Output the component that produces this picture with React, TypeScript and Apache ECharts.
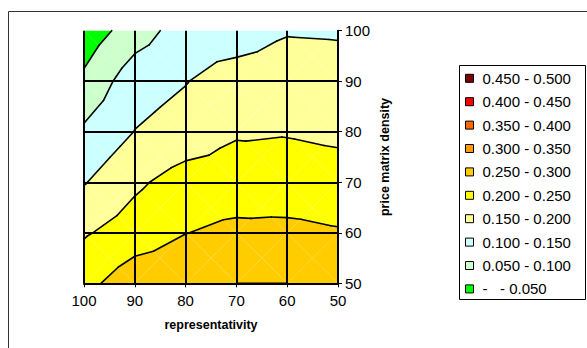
import React, { useEffect, useRef } from "react";
import * as echarts from "echarts";

// Grid coordinates of the surface
const representativity = [100, 90, 80, 70, 60, 50];
const priceMatrixDensity = [50, 60, 70, 80, 90, 100];

// Surface values, one row per price matrix density (50 → 100),
// columns follow the representativity order above
const ratioAtDensity50 = [0.235, 0.28, 0.285, 0.3, 0.3, 0.29];
const ratioAtDensity60 = [0.195, 0.224, 0.249, 0.262, 0.265, 0.255];
const ratioAtDensity70 = [0.147, 0.191, 0.222, 0.222, 0.215, 0.213];
const ratioAtDensity80 = [0.108, 0.151, 0.17, 0.1955, 0.198, 0.194];
const ratioAtDensity90 = [0.06, 0.13, 0.148, 0.175, 0.18, 0.175];
const ratioAtDensity100 = [0.02, 0.075, 0.125, 0.122, 0.146, 0.144];
const ratioRows = [
  ratioAtDensity50,
  ratioAtDensity60,
  ratioAtDensity70,
  ratioAtDensity80,
  ratioAtDensity90,
  ratioAtDensity100,
];

// Colour bands, listed top to bottom as in the legend
const bandLabels = [
  "0.450 - 0.500",
  "0.400 - 0.450",
  "0.350 - 0.400",
  "0.300 - 0.350",
  "0.250 - 0.300",
  "0.200 - 0.250",
  "0.150 - 0.200",
  "0.100 - 0.150",
  "0.050 - 0.100",
  "-   - 0.050",
];
const bandLower = [0.45, 0.4, 0.35, 0.3, 0.25, 0.2, 0.15, 0.1, 0.05, 0];
const bandUpper = [0.5, 0.45, 0.4, 0.35, 0.3, 0.25, 0.2, 0.15, 0.1, 0.05];
const bandColors = [
  "#800000",
  "#FF0000",
  "#FF6600",
  "#FF9900",
  "#FFCC00",
  "#FFFF00",
  "#FFFF99",
  "#CCFFFF",
  "#CCFFCC",
  "#00FF00",
];
const contourLevels = [0.05, 0.1, 0.15, 0.2, 0.25, 0.3, 0.35, 0.4, 0.45];

const FONT = "'Liberation Sans', Arial, sans-serif";

type Pt = [number, number, number];

// Split every grid cell into four triangles around its centre point
function buildTriangles(): Pt[][] {
  const tris: Pt[][] = [];
  for (let j = 0; j < priceMatrixDensity.length - 1; j++) {
    for (let i = 0; i < representativity.length - 1; i++) {
      const a: Pt = [representativity[i], priceMatrixDensity[j], ratioRows[j][i]];
      const b: Pt = [representativity[i + 1], priceMatrixDensity[j], ratioRows[j][i + 1]];
      const c: Pt = [representativity[i + 1], priceMatrixDensity[j + 1], ratioRows[j + 1][i + 1]];
      const d: Pt = [representativity[i], priceMatrixDensity[j + 1], ratioRows[j + 1][i]];
      const m: Pt = [(a[0] + c[0]) / 2, (a[1] + c[1]) / 2, (a[2] + b[2] + c[2] + d[2]) / 4];
      tris.push([a, b, m], [b, c, m], [c, d, m], [d, a, m]);
    }
  }
  return tris;
}

// Keep the part of a polygon above (or below) a level, interpolating linearly
function clipAt(poly: Pt[], level: number, keepAbove: boolean): Pt[] {
  const out: Pt[] = [];
  const inside = (p: Pt) => (keepAbove ? p[2] >= level : p[2] < level);
  for (let k = 0; k < poly.length; k++) {
    const cur = poly[k];
    const nxt = poly[(k + 1) % poly.length];
    const ci = inside(cur);
    const ni = inside(nxt);
    if (ci) out.push(cur);
    if (ci !== ni) {
      const t = (level - cur[2]) / (nxt[2] - cur[2]);
      out.push([cur[0] + t * (nxt[0] - cur[0]), cur[1] + t * (nxt[1] - cur[1]), level]);
    }
  }
  return out;
}

function levelSegment(tri: Pt[], level: number): Pt[] | null {
  const pts: Pt[] = [];
  for (let k = 0; k < 3; k++) {
    const p = tri[k];
    const q = tri[(k + 1) % 3];
    if (p[2] >= level !== q[2] >= level) {
      const t = (level - p[2]) / (q[2] - p[2]);
      pts.push([p[0] + t * (q[0] - p[0]), p[1] + t * (q[1] - p[1]), level]);
    }
  }
  return pts.length === 2 ? pts : null;
}

function buildOption() {
  const tris = buildTriangles();

  const bandSeries = bandLabels.map((name, b) => {
    const polys: Pt[][] = [];
    tris.forEach((tri) => {
      let poly = clipAt(tri, bandLower[b], true);
      if (poly.length >= 3) poly = clipAt(poly, bandUpper[b], false);
      if (poly.length >= 3) polys.push(poly);
    });
    return {
      type: "custom",
      name,
      z: 2,
      itemStyle: { color: bandColors[b] },
      data: polys.map((p, idx) => [p[0][0], p[0][1], idx]),
      renderItem: (_params: any, api: any) => {
        const poly = polys[api.value(2)];
        return {
          type: "polygon",
          shape: { points: poly.map((p) => api.coord([p[0], p[1]])) },
          style: { fill: bandColors[b], stroke: null },
        };
      },
    };
  });

  const segments: Pt[][] = [];
  tris.forEach((tri) => {
    contourLevels.forEach((lv) => {
      const s = levelSegment(tri, lv);
      if (s) segments.push(s);
    });
  });

  const contourSeries = {
    type: "custom",
    name: "contours",
    z: 3,
    silent: true,
    data: segments.map((s, idx) => [s[0][0], s[0][1], idx]),
    renderItem: (_params: any, api: any) => {
      const s = segments[api.value(2)];
      const p1 = api.coord([s[0][0], s[0][1]]);
      const p2 = api.coord([s[1][0], s[1][1]]);
      return {
        type: "line",
        shape: { x1: p1[0], y1: p1[1], x2: p2[0], y2: p2[1] },
        style: { stroke: "#000", lineWidth: 1.6, lineCap: "round" },
      };
    },
  };

  const axisLabel = { fontFamily: FONT, fontSize: 15, color: "#000" };
  const nameStyle = { fontFamily: FONT, fontSize: 12.5, fontWeight: "bold", color: "#000" };

  return {
    animation: false,
    backgroundColor: "#fff",
    grid: { left: 84, right: 249, top: 30.7, bottom: 64.7, containLabel: false },
    xAxis: {
      type: "value",
      inverse: true,
      min: 50,
      max: 100,
      interval: 10,
      z: 5,
      name: "representativity",
      nameLocation: "middle",
      nameGap: 35,
      nameTextStyle: nameStyle,
      axisLine: { show: true, lineStyle: { color: "#000", width: 2 } },
      axisTick: { show: true, inside: false, length: 4, lineStyle: { color: "#000", width: 1 } },
      axisLabel: { ...axisLabel, margin: 10 },
      splitLine: { show: true, lineStyle: { color: "#000", width: 2 } },
    },
    yAxis: {
      type: "value",
      position: "right",
      min: 50,
      max: 100,
      interval: 10,
      z: 5,
      name: "price matrix density",
      nameLocation: "middle",
      nameRotate: 90,
      nameGap: 40,
      nameTextStyle: nameStyle,
      axisLine: { show: true, lineStyle: { color: "#000", width: 2 } },
      axisTick: { show: true, inside: false, length: 4, lineStyle: { color: "#000", width: 1 } },
      axisLabel: { ...axisLabel, margin: 7 },
      splitLine: { show: true, showMaxLine: false, lineStyle: { color: "#000", width: 2 } },
    },
    legend: {
      orient: "vertical",
      left: 465,
      top: 68.3,
      padding: 0,
      itemWidth: 8,
      itemHeight: 8,
      itemGap: 3.4,
      icon: "rect",
      selectedMode: false,
      itemStyle: { borderColor: "#000", borderWidth: 1 },
      textStyle: {
        fontFamily: FONT,
        fontSize: 15,
        color: "#000",
        lineHeight: 20,
        padding: [0, 0, 0, 4],
      },
      data: bandLabels.map((name, b) => ({
        name,
        itemStyle: { color: bandColors[b], borderColor: "#000", borderWidth: 1 },
      })),
    },
    graphic: [
      {
        type: "rect",
        silent: true,
        shape: { x: 8.5, y: 11.5, width: 700, height: 500 },
        style: { fill: null, stroke: "#333", lineWidth: 1 },
      },
      {
        type: "rect",
        silent: true,
        shape: { x: 459.5, y: 65.5, width: 126, height: 234 },
        style: { fill: null, stroke: "#000", lineWidth: 1 },
      },
    ],
    series: [...bandSeries, contourSeries],
  };
}

export default function App() {
  const ref = useRef<HTMLDivElement>(null);
  useEffect(() => {
    if (!ref.current) return;
    const chart = echarts.init(ref.current, null, { renderer: "svg" });
    chart.setOption(buildOption() as any);
    return () => chart.dispose();
  }, []);
  return (
    <div
      ref={ref}
      style={{ position: "fixed", left: 0, top: 0, width: 587, height: 348, background: "#fff" }}
    />
  );
}
